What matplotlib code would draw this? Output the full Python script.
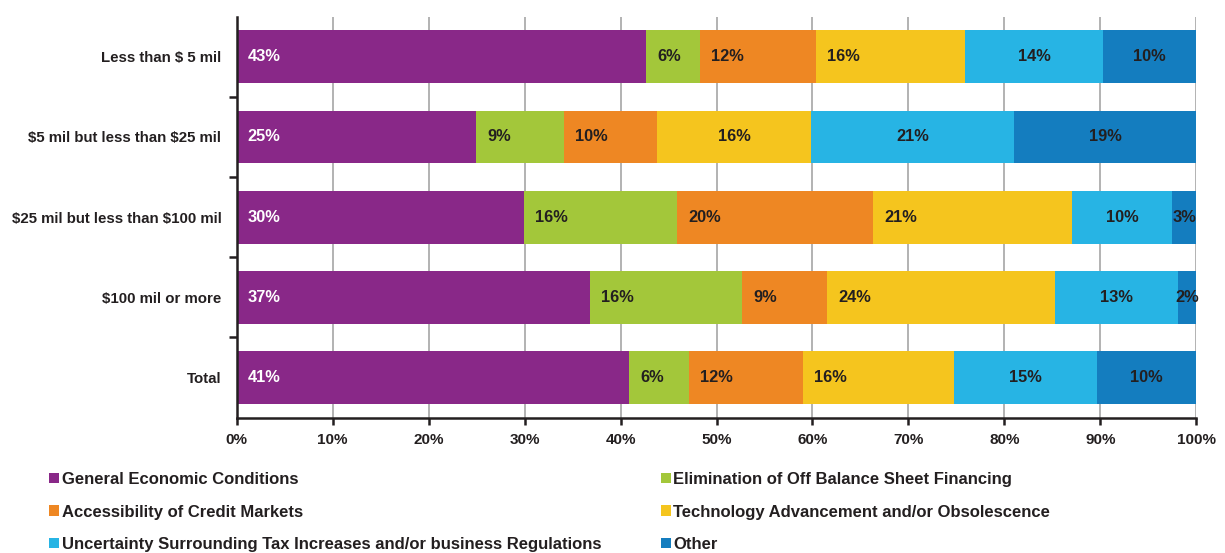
import matplotlib
matplotlib.use("Agg")
import matplotlib.pyplot as plt
from matplotlib.patches import Patch

plt.rcParams['font.family'] = ['Liberation Sans', 'DejaVu Sans']
plt.rcParams['font.weight'] = 'bold'
plt.rcParams['text.parse_math'] = False  # labels contain literal $ signs

# revenue groups, top to bottom
groups = ["Less than $ 5 mil", "$5 mil but less than $25 mil",
          "$25 mil but less than $100 mil", "$100 mil or more", "Total"]

series = ["General Economic Conditions",
          "Elimination of Off Balance Sheet Financing",
          "Accessibility of Credit Markets",
          "Technology Advancement and/or Obsolescence",
          "Uncertainty Surrounding Tax Increases and/or business Regulations",
          "Other"]

# share of respondents (%) per group, one list per reason
general = [42.65, 24.94, 29.94, 36.82, 40.88]
off_balance = [5.66, 9.20, 15.97, 15.84, 6.25]
credit = [12.06, 9.69, 20.40, 8.85, 11.88]
technology = [15.53, 16.02, 20.70, 23.73, 15.71]
tax_regs = [14.35, 21.12, 10.46, 12.85, 14.90]
other = [9.75, 19.03, 2.53, 1.91, 10.38]

values = [general, off_balance, credit, technology, tax_regs, other]
colors = ['#892888', '#a3c73a', '#ee8723', '#f5c51e', '#27b4e4', '#147dbf']
text_dark = '#231f20'

fig = plt.figure(figsize=(12.25, 5.53), dpi=100)
ax = fig.add_axes([236.7 / 1225, 1 - 417.7 / 553, 959.6 / 1225, 401 / 553])

# label placement: near the start of the segment, except the last two series
label_align = ['base', 'base', 'base', 'base', 'center', 'center']
centered_extra = {(1, 3)}

ypos = list(range(len(groups)))
left = [0.0] * len(groups)
for s, (vals, col) in enumerate(zip(values, colors)):
    ax.barh(ypos, vals, left=left, height=0.657, color=col, zorder=2)
    for g, v in enumerate(vals):
        tcol = 'white' if s == 0 else text_dark
        if label_align[s] == 'center' or (g, s) in centered_extra:
            ax.annotate(f"{v:.0f}%", (left[g] + v / 2, g), ha='center', va='center',
                        fontsize=11.8, fontweight='bold', color=tcol, zorder=3,
                        annotation_clip=False)
        else:
            ax.annotate(f"{v:.0f}%", (left[g], g), xytext=(8, 0), textcoords='offset points',
                        ha='left', va='center', fontsize=11.8, fontweight='bold',
                        color=tcol, zorder=3)
    left = [l + v for l, v in zip(left, vals)]

ax.set_xlim(0, 100)
ax.set_ylim(len(groups) - 0.5, -0.5)

ax.set_xticks(range(0, 101, 10))
ax.set_xticklabels([f"{t}%" for t in range(0, 101, 10)], fontsize=11,
                   fontweight='bold', color=text_dark)
ax.tick_params(axis='x', direction='out', length=5, width=1.8, color=text_dark, pad=6)

ax.set_yticks([0.5, 1.5, 2.5, 3.5])
ax.set_yticklabels([])
ax.tick_params(axis='y', which='major', direction='out', length=6, width=1.8, color=text_dark)
ax.set_yticks(ypos, minor=True)
ax.set_yticklabels(groups, minor=True, fontsize=10.8, fontweight='bold', color=text_dark)
ax.tick_params(axis='y', which='minor', length=0, pad=11)

ax.xaxis.grid(True, color='#a6a6a6', linewidth=1.2, zorder=0)
ax.set_axisbelow(True)
for side in ['top', 'right']:
    ax.spines[side].set_visible(False)
for side in ['left', 'bottom']:
    ax.spines[side].set_linewidth(1.8)
    ax.spines[side].set_color(text_dark)
    ax.spines[side].set_zorder(4)

handles = [Patch(facecolor=c, edgecolor='none') for c in colors]
leg_kw = dict(loc='upper left', frameon=False, borderpad=0, borderaxespad=0,
              handlelength=0.6, handleheight=0.6, handletextpad=0.15,
              labelspacing=1.05, prop={'size': 12, 'weight': 'bold'},
              labelcolor=text_dark)
fig.legend([handles[i] for i in (0, 2, 4)], [series[i] for i in (0, 2, 4)],
           bbox_to_anchor=(49 / 1225, 1 - 472 / 553), **leg_kw)
fig.legend([handles[i] for i in (1, 3, 5)], [series[i] for i in (1, 3, 5)],
           bbox_to_anchor=(660.7 / 1225, 1 - 472 / 553), **leg_kw)

fig.savefig("out.png", dpi=100)
